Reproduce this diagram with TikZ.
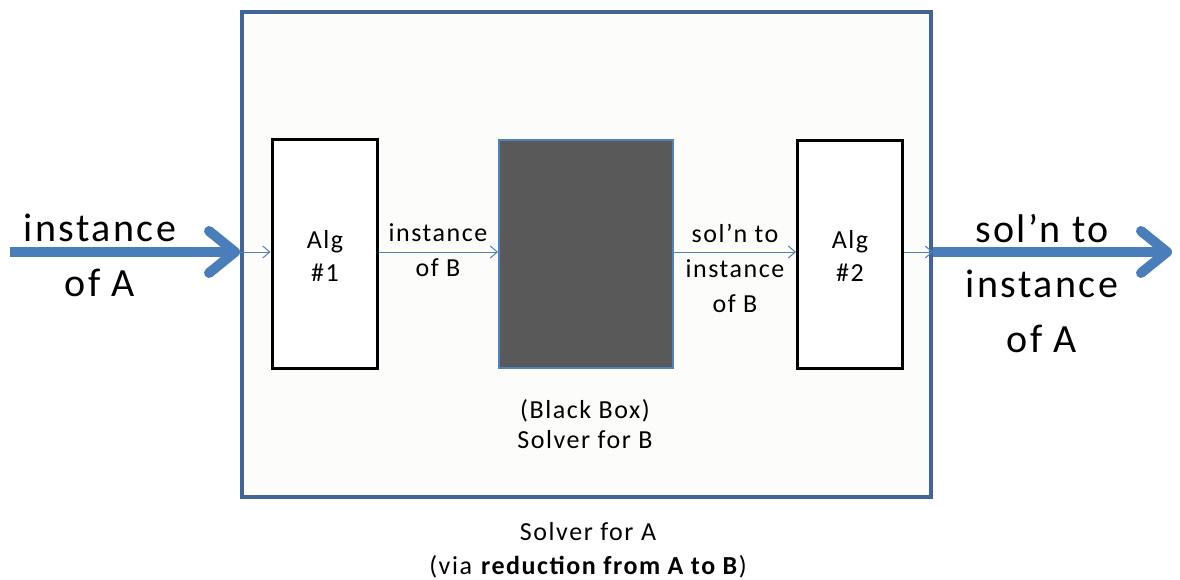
\documentclass[tikz,border=0pt]{standalone}
\usepackage{fontspec}
\setmainfont{Carlito}
\usetikzlibrary{arrows.meta}
\definecolor{outerblue}{HTML}{41659A}
\definecolor{arrowblue}{HTML}{4A7EBB}
\definecolor{thinblue}{HTML}{4F81BD}
\definecolor{boxgray}{HTML}{595959}
\definecolor{paper}{HTML}{FCFCFA}
\tikzset{
  bigtxt/.style={font=\fontsize{40}{57}\selectfont\addfontfeature{LetterSpace=6}, align=center, inner sep=0pt},
  smalltxt/.style={font=\fontsize{26}{36}\selectfont\addfontfeature{LetterSpace=6}, align=center, inner sep=0pt},
  algbox/.style={draw=black, line width=3pt, fill=white, minimum width=105pt, minimum height=228pt, inner sep=0pt},
  blackbox/.style={draw=thinblue, line width=2pt, fill=boxgray, minimum width=174pt, minimum height=228pt, inner sep=0pt},
  bigarrow/.style={draw=arrowblue, line width=10pt, -{Straight Barb[length=26pt, width=42pt, round]}},
  thinarrow/.style={draw=thinblue, line width=1pt, -{Straight Barb[length=7pt, width=12pt]}},
}
\begin{document}
\begin{tikzpicture}[x=1pt, y=-1pt]
\useasboundingbox (0,0) rectangle (1180,580);
\fill[white] (0,0) rectangle (1180,580);
% outer solver box
\node[draw=outerblue, line width=4pt, fill=paper, minimum width=689pt, minimum height=485pt, inner sep=0pt] (outer) at (586.5,254.5) {};
\node[algbox] (alg1) at (324.5,254) {};
\node[blackbox] (bb) at (586,254) {};
\node[algbox] (alg2) at (850,254.5) {};
% texts in boxes
\node[smalltxt] (alg1t) at (325,256) {Alg\\[-3pt]\#1};
\node[smalltxt] (alg2t) at (850,256) {Alg\\[-3pt]\#2};
% coordinates for arrows
\coordinate (inL) at (10,252);
\coordinate (outR) at (1172,252);
\coordinate (oL) at (outer.west |- inL);
\coordinate (oR) at (outer.east |- inL);
\draw[bigarrow] (inL) -- (oL);
\draw[bigarrow] (oR) -- (outR);
\draw[thinarrow] (oL) -- (alg1.west |- inL);
\draw[thinarrow] (alg1.east |- inL) -- (bb.west |- inL);
\draw[thinarrow] (bb.east |- inL) -- (alg2.west |- inL);
\draw[thinarrow] (alg2.east |- inL) -- (oR);
% labels
\node[bigtxt] (lblA) at (100,255) {instance\\[-2pt]of A};
\node[bigtxt] (lblR) at (1042,284) {sol’n to\\[-2pt]instance\\[-2pt]of A};
\node[smalltxt] (lblB) at (438,250) {instance\\[-1pt]of B};
\node[smalltxt] (lblS) at (735,268) {sol’n to\\[-1pt]instance\\[-1pt]of B};
\node[smalltxt] (bbcap) at (585,424) {(Black Box)\\[-6pt]Solver for B};
\node[smalltxt] (outcap) at (588,550) {Solver for A\\[-2pt](via \textbf{reduction from A to B})};
\end{tikzpicture}
\end{document}
